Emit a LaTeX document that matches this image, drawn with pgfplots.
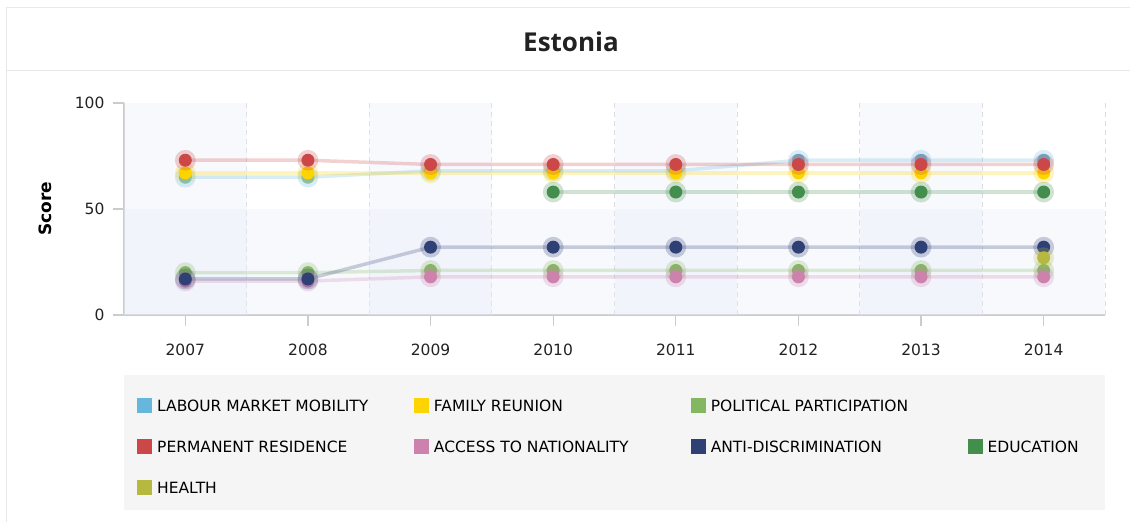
\documentclass[border=0pt]{standalone}
\usepackage{pgfplots}
\pgfplotsset{compat=1.18}
\usepackage{fontspec}
\setmainfont{DejaVu Sans}
\newfontfamily\titlefont{Open Sans}
\definecolor{cLab}{HTML}{67B7DC}
\definecolor{cFam}{HTML}{FDD400}
\definecolor{cPol}{HTML}{84B761}
\definecolor{cPer}{HTML}{CC4748}
\definecolor{cAcc}{HTML}{CD82AD}
\definecolor{cAnt}{HTML}{2F4074}
\definecolor{cEdu}{HTML}{448E4D}
\definecolor{cHea}{HTML}{B7B83F}
\definecolor{axiscol}{HTML}{CCCCCC}
\definecolor{gridcol}{HTML}{DCDCE4}
\definecolor{bandcol}{HTML}{E6EAFA}
\definecolor{legbg}{HTML}{F5F5F5}
\definecolor{framecol}{HTML}{E8E8E8}
\definecolor{titlecol}{HTML}{222222}
\definecolor{tickcol}{HTML}{222222}
\pgfdeclareplotmark{halo}{%
  \pgfpathcircle{\pgfpointorigin}{1.6\pgfplotmarksize}%
  \pgfsetfillopacity{0.25}\pgfusepathqfill
  \pgfsetfillopacity{1}%
  \pgfpathcircle{\pgfpointorigin}{\pgfplotmarksize}\pgfusepathqfill}
\newcommand{\legtxt}[1]{\makebox[256.8pt][l]{#1}}
\begin{document}
\begin{tikzpicture}
% pixel (x,y) -> (x-124, 315-y)
\fill[legbg] (0pt,-60pt) rectangle (981pt,-195pt);
\draw[framecol, line width=1pt] (-117pt,-207pt) -- (-117pt,307pt) -- (1006pt,307pt);
\draw[framecol, line width=1pt] (-117pt,244pt) -- (1006pt,244pt);
\node[font=\titlefont\bfseries\fontsize{26}{30}\selectfont, text=titlecol] at (447pt,273pt) {Estonia};
\begin{axis}[
  width=981pt, height=212pt, scale only axis,
  xmin=-0.5, xmax=7.5, ymin=0, ymax=100,
  xtick={0,...,7}, xticklabels={2007,2008,2009,2010,2011,2012,2013,2014},
  ytick={0,50,100},
  /pgf/number format/assume math mode=true,
  axis x line*=bottom, axis y line*=left,
  axis line style={draw=axiscol, line width=1.5pt, -},
  tick align=outside, major tick length=11pt,
  tick style={draw=axiscol, line width=1.2pt},
  ticklabel style={font=\fontsize{15.5}{18}\selectfont, text=tickcol},
  xticklabel style={yshift=-14pt},
  yticklabel style={xshift=-5pt},
  ylabel={\bfseries Score},
  ylabel style={font=\fontsize{17}{20}\selectfont, at={(axis description cs:-0.0805,0.5)}, anchor=center},
  extra x ticks={0.5,1.5,2.5,3.5,4.5,5.5,6.5,7.5},
  extra x tick labels={},
  extra x tick style={grid=major, major tick length=0pt, tick style={draw=none}},
  major grid style={dash pattern=on 5pt off 4pt, draw=gridcol, line width=1pt},
  legend columns=4,
  legend cell align=left,
  legend style={draw=none, fill=none, inner sep=0pt,
    at={(axis description cs:0.01325,-0.3915)}, anchor=north west,
    font=\fontsize{15.5}{18}\selectfont,
    nodes={inner sep=0pt, text height=11pt, text depth=0pt},
    row sep=26pt,
    /tikz/every odd column/.append style={column sep=5pt},
    /tikz/every even column/.append style={column sep=0pt}},
  legend image code/.code={\fill[#1, draw=none, fill opacity=1] (0pt,-7.5pt) rectangle (15pt,7.5pt);},
  every axis plot/.append style={line width=3.5pt, draw opacity=0.25, mark=halo, mark size=6.5pt},
]
\fill[bandcol, fill opacity=0.3] (axis cs:-0.5,0) rectangle (axis cs:0.5,100);
\fill[bandcol, fill opacity=0.3] (axis cs:1.5,0) rectangle (axis cs:2.5,100);
\fill[bandcol, fill opacity=0.3] (axis cs:3.5,0) rectangle (axis cs:4.5,100);
\fill[bandcol, fill opacity=0.3] (axis cs:5.5,0) rectangle (axis cs:6.5,100);
\fill[bandcol, fill opacity=0.3] (axis cs:-0.5,0) rectangle (axis cs:7.5,50);

\addplot[color=cLab] coordinates {(0,65)(1,65)(2,68)(3,68)(4,68)(5,73)(6,73)(7,73)};
\addlegendentry{\legtxt{LABOUR MARKET MOBILITY}}
\addplot[color=cFam] coordinates {(0,67)(1,67)(2,67)(3,67)(4,67)(5,67)(6,67)(7,67)};
\addlegendentry{\legtxt{FAMILY REUNION}}
\addplot[color=cPol] coordinates {(0,20)(1,20)(2,21)(3,21)(4,21)(5,21)(6,21)(7,21)};
\addlegendentry{\legtxt{POLITICAL PARTICIPATION}}
\addlegendimage{empty legend}
\addlegendentry{}
\addplot[color=cPer] coordinates {(0,73)(1,73)(2,71)(3,71)(4,71)(5,71)(6,71)(7,71)};
\addlegendentry{\legtxt{PERMANENT RESIDENCE}}
\addplot[color=cAcc] coordinates {(0,16)(1,16)(2,18)(3,18)(4,18)(5,18)(6,18)(7,18)};
\addlegendentry{\legtxt{ACCESS TO NATIONALITY}}
\addplot[color=cAnt] coordinates {(0,17)(1,17)(2,32)(3,32)(4,32)(5,32)(6,32)(7,32)};
\addlegendentry{\legtxt{ANTI-DISCRIMINATION}}
\addplot[color=cEdu] coordinates {(3,58)(4,58)(5,58)(6,58)(7,58)};
\addlegendentry{\legtxt{EDUCATION}}
\addplot[color=cHea] coordinates {(7,27)};
\addlegendentry{\legtxt{HEALTH}}
\end{axis}
\pgfresetboundingbox
\path[use as bounding box] (-124pt,-207pt) rectangle (1006pt,315pt);
\end{tikzpicture}
\end{document}
